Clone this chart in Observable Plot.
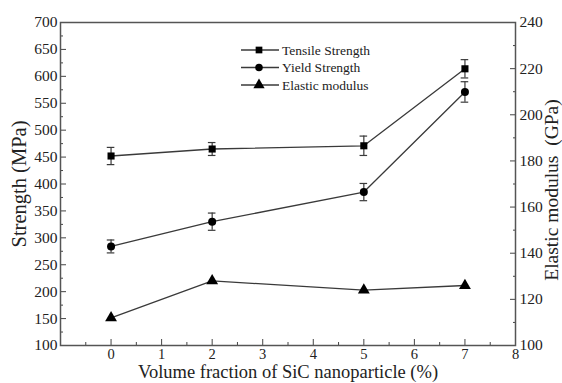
<!DOCTYPE html>
<html><head>
<meta charset="utf-8">
<script src="https://cdn.jsdelivr.net/npm/d3@7"></script>
<script src="https://cdn.jsdelivr.net/npm/@observablehq/plot@0.6"></script>
<style>
body{margin:0;background:#fff}
#chart{position:relative;width:562px;height:383px}
#chart svg text{font-family:'Liberation Serif','Times New Roman',serif}
</style>
</head><body><div id="chart"></div>
<script>
// ---- data ----
const fractions = [0, 2, 5, 7];
const tensile = [452, 465, 471, 614];
const tensileErr = [16, 12, 18, 17];
const yieldS = [284, 330, 385, 571];
const yieldErr = [12, 16, 16, 19];
const modulus = [112, 128, 124, 126];
const seriesNames = ["Tensile Strength", "Yield Strength", "Elastic modulus"];
const strengthTicks = [100,150,200,250,300,350,400,450,500,550,600,650,700];
const modulusTicks = [100,120,140,160,180,200,220,240];
const xTicks = [0,1,2,3,4,5,6,7,8];
const xTitle = "Volume fraction of SiC nanoparticle (%)";
const yTitle = "Strength (MPa)";
const y2Title = "Elastic modulus  (GPa)";

// ---- helpers ----
const sMin = 100, sMax = 700, mMin = 100, mMax = 240;
const m2s = e => sMin + (e - mMin) * (sMax - sMin) / (mMax - mMin);
const s2m = s => mMin + (s - sMin) * (mMax - mMin) / (sMax - sMin);

const tData = fractions.map((x, i) => ({x, y: tensile[i], e: tensileErr[i]}));
const yData = fractions.map((x, i) => ({x, y: yieldS[i], e: yieldErr[i]}));
const mData = fractions.map((x, i) => ({x, y: m2s(modulus[i])}));

const minorS = d3.range(125, 700, 50);
const minorX = d3.range(-0.5, 8, 1);
const minorM = d3.range(110, 240, 20).map(m2s);
const capHalf = 0.075;
const font = "'Liberation Serif', 'Times New Roman', serif";
const lineC = "#3a3a3a";
const tickC = "#444";

function errMarks(data) {
  return [
    Plot.ruleX(data, {x: "x", y1: d => d.y - d.e, y2: d => d.y + d.e, stroke: lineC, strokeWidth: 1.2}),
    Plot.ruleY(data, {y: d => d.y - d.e, x1: d => d.x - capHalf, x2: d => d.x + capHalf, stroke: lineC, strokeWidth: 1.2}),
    Plot.ruleY(data, {y: d => d.y + d.e, x1: d => d.x - capHalf, x2: d => d.x + capHalf, stroke: lineC, strokeWidth: 1.2})
  ];
}

const chart = Plot.plot({
  width: 562, height: 383,
  marginLeft: 60, marginRight: 47, marginTop: 22, marginBottom: 38,
  style: {fontFamily: font, fontSize: "15px", color: "#222", background: "#fff"},
  x: {domain: [-1, 8]},
  y: {domain: [sMin, sMax]},
  marks: [
    // inward ticks (drawn outward, then shifted inside the frame)
    Plot.axisY({ticks: strengthTicks, tickSize: 6, dx: 6, text: null, label: null, stroke: tickC}),
    Plot.axisY({ticks: minorS, tickSize: 3, dx: 3, text: null, label: null, stroke: tickC}),
    Plot.axisY({anchor: "right", ticks: modulusTicks.map(m2s), tickSize: 6, dx: -6, text: null, label: null, stroke: tickC}),
    Plot.axisY({anchor: "right", ticks: minorM, tickSize: 3, dx: -3, text: null, label: null, stroke: tickC}),
    Plot.axisX({ticks: xTicks, tickSize: 6, dy: -6, text: null, label: null, stroke: tickC}),
    Plot.axisX({ticks: minorX, tickSize: 3, dy: -3, text: null, label: null, stroke: tickC}),
    // tick labels
    Plot.axisY({ticks: strengthTicks, tickSize: 0, tickPadding: 3, label: null, fontSize: 15.5, fontFamily: font, fill: "#222"}),
    Plot.axisY({anchor: "right", ticks: modulusTicks.map(m2s), tickFormat: d => Math.round(s2m(d)), tickSize: 0, tickPadding: 4, label: null, fontSize: 15.5, fontFamily: font, fill: "#222"}),
    Plot.axisX({ticks: xTicks, tickSize: 0, tickPadding: 3, label: null, fontSize: 14.5, fontFamily: font, fill: "#222"}),
    Plot.frame({stroke: "#555", strokeWidth: 1.5}),
    // titles
    Plot.text([yTitle], {frameAnchor: "left", textAnchor: "middle", dx: -41, rotate: -90, text: d => d, fontSize: 20.5, fontFamily: font, fill: "#222"}),
    Plot.text([y2Title], {frameAnchor: "right", textAnchor: "middle", dx: 36, dy: 6, rotate: -90, text: d => d, fontSize: 19.5, fontFamily: font, fill: "#222"}),
    Plot.text([xTitle], {frameAnchor: "bottom", dy: 32, text: d => d, fontSize: 18.5, fontFamily: font, fill: "#222"}),
    // series
    ...errMarks(tData),
    ...errMarks(yData),
    Plot.line(tData, {x: "x", y: "y", stroke: lineC, strokeWidth: 1.3}),
    Plot.line(yData, {x: "x", y: "y", stroke: lineC, strokeWidth: 1.3}),
    Plot.line(mData, {x: "x", y: "y", stroke: lineC, strokeWidth: 1.3}),
    Plot.dot(tData, {x: "x", y: "y", symbol: "square", r: 4, fill: "#000"}),
    Plot.dot(yData, {x: "x", y: "y", symbol: "circle", r: 4, fill: "#000"}),
    Plot.dot(mData, {x: "x", y: "y", symbol: "triangle", r: 4.4, fill: "#000"})
  ]
});
document.getElementById("chart").appendChild(chart);

// legend inside plot area
const svg = d3.select(chart);
const symbols = [d3.symbolSquare, d3.symbolCircle, d3.symbolTriangle];
const sizes = [45, 45, 55];
const lg = svg.append("g").attr("font-family", font).attr("font-size", 13.5).attr("fill", "#222").attr("text-anchor", "start");
seriesNames.forEach((name, i) => {
  const y = 50 + i * 17.5;
  lg.append("line").attr("x1", 241).attr("x2", 279).attr("y1", y).attr("y2", y).attr("stroke", lineC).attr("stroke-width", 1.3);
  lg.append("path").attr("d", d3.symbol(symbols[i], sizes[i])()).attr("transform", `translate(259,${y})`).attr("fill", "#000");
  lg.append("text").attr("x", 282).attr("y", y).attr("dy", "0.35em").attr("text-anchor", "start").text(name);
});
</script>
</body></html>
